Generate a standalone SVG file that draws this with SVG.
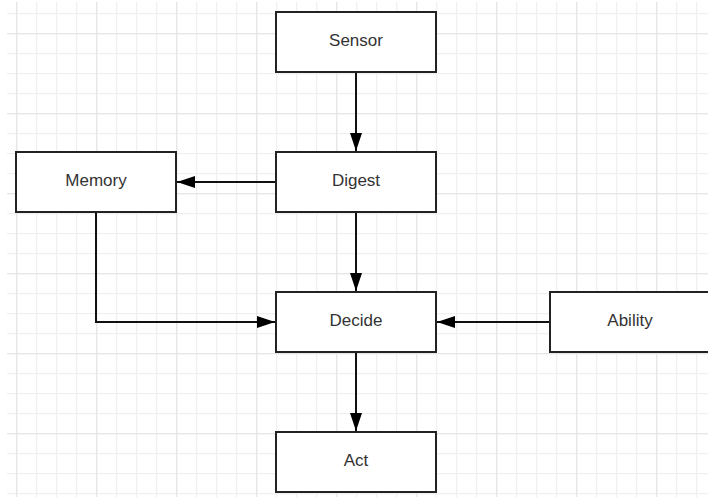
<svg xmlns="http://www.w3.org/2000/svg" width="708" height="497" viewBox="0 0 708 497">
<defs>
<pattern id="minor" x="16" y="13" width="20" height="20" patternUnits="userSpaceOnUse">
<path d="M0.5 0V20M0 0.5H20" fill="none" stroke="#f0f0f0" stroke-width="1.5"/>
</pattern>
<pattern id="major" x="16" y="33" width="80" height="80" patternUnits="userSpaceOnUse">
<path d="M0.5 0V80M0 0.5H80" fill="none" stroke="#e6e6e6" stroke-width="1.5"/>
</pattern>
<marker id="arr" viewBox="0 0 18 12" refX="18" refY="6" markerWidth="18" markerHeight="12" markerUnits="userSpaceOnUse" orient="auto">
<path d="M0 0L18 6L0 12Z" fill="#000"/>
</marker>
</defs>
<style>
.box{fill:#fff;stroke:#222;stroke-width:2}
.lbl{font-family:"Liberation Sans",Arial,sans-serif;font-size:17px;fill:#333;text-anchor:middle;dominant-baseline:central}
.con{fill:none;stroke:#111;stroke-width:2}
</style>
<rect width="708" height="497" fill="#fff"/>
<rect x="7" y="2" width="701" height="495" fill="url(#minor)"/>
<rect x="7" y="2" width="701" height="495" fill="url(#major)"/>
<g id="connectors">
<path class="con" d="M356 72V151" marker-end="url(#arr)"/>
<path class="con" d="M276 182H177" marker-end="url(#arr)"/>
<path class="con" d="M356 212V291" marker-end="url(#arr)"/>
<path class="con" d="M96 212V322H275" marker-end="url(#arr)"/>
<path class="con" d="M550 322H437" marker-end="url(#arr)"/>
<path class="con" d="M356 352V431" marker-end="url(#arr)"/>
</g>
<g id="sensor"><rect class="box" x="276" y="12" width="160" height="60"/><text class="lbl" x="356" y="40">Sensor</text></g>
<g id="digest"><rect class="box" x="276" y="152" width="160" height="60"/><text class="lbl" x="356" y="180">Digest</text></g>
<g id="memory"><rect class="box" x="16" y="152" width="160" height="60"/><text class="lbl" x="96" y="180">Memory</text></g>
<g id="decide"><rect class="box" x="276" y="292" width="160" height="60"/><text class="lbl" x="356" y="320">Decide</text></g>
<g id="ability"><rect class="box" x="550" y="292" width="170" height="60"/><text class="lbl" x="630" y="320">Ability</text></g>
<g id="act"><rect class="box" x="276" y="432" width="160" height="60"/><text class="lbl" x="356" y="460">Act</text></g>
</svg>
